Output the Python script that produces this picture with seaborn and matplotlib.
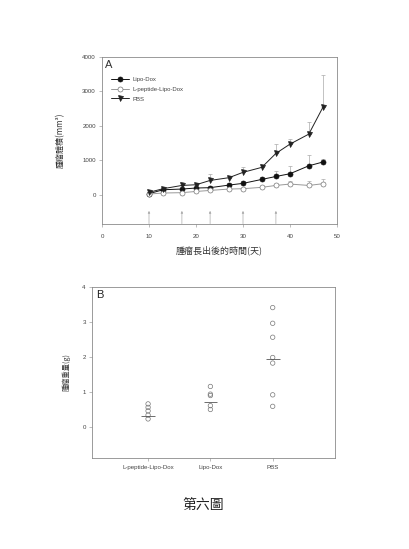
import matplotlib
matplotlib.use("Agg")
import matplotlib.pyplot as plt
import seaborn as sns
import numpy as np
import pandas as pd

# ---------------- data ----------------
days = [10, 13, 17, 20, 23, 27, 30, 34, 37, 40, 44, 47]
lipo_dox = [30, 145, 165, 195, 205, 280, 330, 445, 530, 610, 840, 950]
lipo_dox_err = [15, 30, 40, 40, 50, 60, 70, 80, 150, 210, 310, 100]
lpep_lipo_dox = [20, 50, 60, 95, 125, 165, 175, 215, 270, 310, 270, 320]
lpep_lipo_dox_err = [10, 15, 20, 20, 25, 30, 30, 40, 50, 75, 140, 135]
pbs = [70, 175, 270, 290, 415, 495, 650, 795, 1200, 1470, 1760, 2540]
pbs_err = [20, 40, 100, 60, 195, 60, 150, 95, 280, 150, 350, 950]
dose_days = [10, 17, 23, 30, 37]

groups_b = ["L-peptide-Lipo-Dox", "Lipo-Dox", "PBS"]
weights_lpep = [0.65, 0.55, 0.45, 0.33, 0.22]
weights_lipo = [1.15, 0.93, 0.89, 0.60, 0.49]
weights_pbs = [3.41, 2.96, 2.56, 1.98, 1.82, 0.91, 0.58]
center_lines = [0.30, 0.71, 1.94]

series_names = ["Lipo-Dox", "L-peptide-Lipo-Dox", "PBS"]

# ---------------- style ----------------
sns.set_theme(style="white")
plt.rcParams['font.family'] = ['Liberation Sans', 'Noto Sans CJK TC', 'DejaVu Sans']
cjk = ['Noto Sans CJK TC', 'DejaVu Sans']
spine_c = '#8a8a8a'

fig = plt.figure(figsize=(4.10, 5.49), dpi=100)

# ---------------- panel A ----------------
axA = fig.add_axes([102/410, 1-224/549, 235/410, 167/549])
dfA = pd.DataFrame({
    "day": days * 3,
    "vol": lipo_dox + lpep_lipo_dox + pbs,
    "err": lipo_dox_err + lpep_lipo_dox_err + pbs_err,
    "grp": [series_names[0]] * len(days) + [series_names[1]] * len(days) + [series_names[2]] * len(days),
})
styles = {
    "Lipo-Dox": dict(color='#111111', marker='o', mfc='#111111', mec='#111111'),
    "L-peptide-Lipo-Dox": dict(color='#999999', marker='o', mfc='white', mec='#777777'),
    "PBS": dict(color='#222222', marker='v', mfc='#222222', mec='#222222'),
}
for name in series_names:
    sub = dfA[dfA.grp == name]
    st = styles[name]
    axA.errorbar(sub.day, sub.vol, yerr=[np.zeros(len(sub)), sub.err], fmt='none',
                 ecolor='#aaaaaa', elinewidth=0.5, capsize=1.5, capthick=0.5, zorder=1)
    sns.lineplot(data=sub, x="day", y="vol", ax=axA, color=st['color'], lw=0.7,
                 marker=st['marker'], markersize=3.6, markerfacecolor=st['mfc'],
                 markeredgecolor=st['mec'], markeredgewidth=0.5, label=name, zorder=3)

for d in dose_days:
    axA.annotate("", xy=(d, -470), xytext=(d, -840),
                 arrowprops=dict(arrowstyle='-|>', color='#aaaaaa', lw=0.5,
                                 mutation_scale=3, shrinkA=0, shrinkB=0))

axA.set_xlim(0, 50)
axA.set_ylim(-850, 4000)
axA.set_xticks([0, 10, 20, 30, 40, 50])
axA.set_yticks([0, 1000, 2000, 3000, 4000])
axA.tick_params(axis='both', labelsize=4.4, length=2, width=0.4, color=spine_c,
                labelcolor='#444444', pad=2.5, direction='out', left=True, bottom=True)
axA.tick_params(axis='x', pad=5)
for s in axA.spines.values():
    s.set_color(spine_c)
    s.set_linewidth(0.6)
axA.set_xlabel("腫瘤長出後的時間(天)", fontsize=6.5, family=cjk, color='#333333', labelpad=5)
axA.set_ylabel("腫瘤體積(mm³)", fontsize=5.8, family=cjk, color='#333333', labelpad=12)
axA.text(0.012, 0.985, "A", transform=axA.transAxes, fontsize=8, va='top', ha='left', color='#333333')
leg = axA.legend(loc='upper left', bbox_to_anchor=(0.02, 0.905), frameon=False, fontsize=4.3,
                 handlelength=3, handletextpad=0.6, labelspacing=0.75, borderpad=0.2)
for t in leg.get_texts():
    t.set_color('#444444')

# ---------------- panel B ----------------
axB = fig.add_axes([92/410, 1-458/549, 243/410, 171/549])
dfB = pd.DataFrame({
    "grp": [groups_b[0]] * len(weights_lpep) + [groups_b[1]] * len(weights_lipo) + [groups_b[2]] * len(weights_pbs),
    "w": weights_lpep + weights_lipo + weights_pbs,
})
sns.stripplot(data=dfB, x="grp", y="w", order=groups_b, ax=axB, jitter=False,
              color='#777777', size=3.2, marker='o', linewidth=0.5, edgecolor='#777777')
for c in axB.collections:
    c.set_facecolor('none')
    c.set_edgecolor('#777777')
    c.set_linewidth(0.5)
axB.hlines(center_lines, np.arange(len(groups_b)) - 0.11, np.arange(len(groups_b)) + 0.11,
           color='#555555', lw=0.6, zorder=4)

axB.set_xlim(-0.9, 3.0)
axB.set_ylim(-0.9, 4)
axB.set_yticks([0, 1, 2, 3, 4])
axB.tick_params(axis='both', labelsize=4.4, length=2, width=0.4, color=spine_c,
                labelcolor='#444444', pad=2.5, direction='out', left=True, bottom=True)
axB.tick_params(axis='x', pad=3)
for s in axB.spines.values():
    s.set_color(spine_c)
    s.set_linewidth(0.6)
axB.set_xlabel("")
axB.set_ylabel("腫瘤重量(g)", fontsize=5.2, family=cjk, color='#333333', labelpad=8)
axB.text(0.015, 0.985, "B", transform=axB.transAxes, fontsize=8, va='top', ha='left', color='#222222')

# caption
fig.text(203/410, 1-505/549, "第六圖", fontsize=10, family=cjk, ha='center', va='center', color='#222222')

fig.savefig("out.png", dpi=100, facecolor='white')
